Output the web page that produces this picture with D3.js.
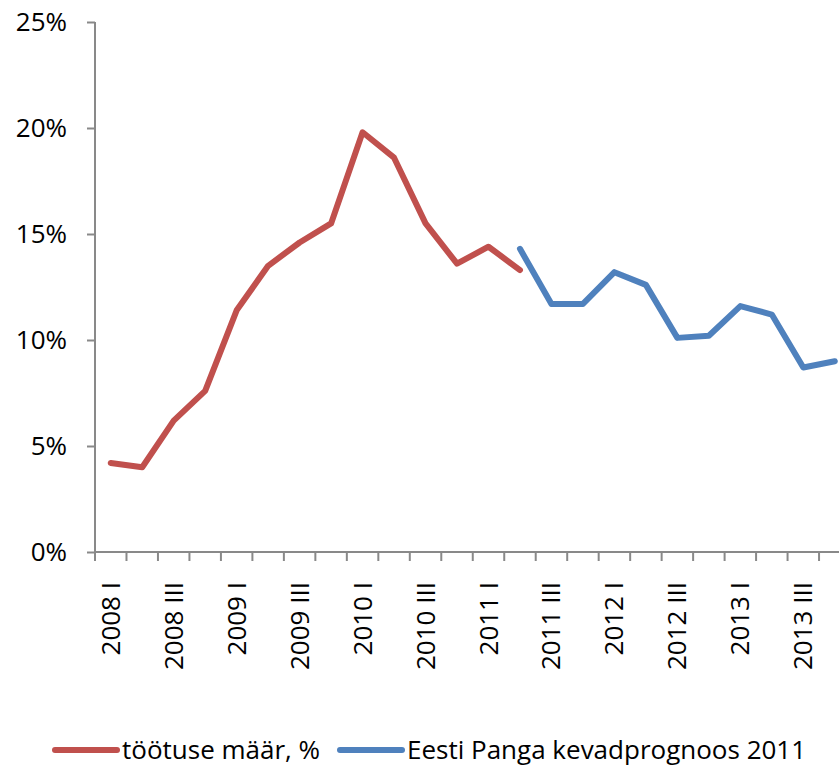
<!DOCTYPE html>
<html>
<head>
<meta charset="utf-8">
<script src="https://cdn.jsdelivr.net/npm/d3@7"></script>
<style>
  body { margin: 0; background: #fff; }
  svg { display: block; font-family: "Open Sans", sans-serif; }
</style>
</head>
<body>
<div id="chart"></div>
<script>
// quarters 2008 I .. 2013 IV
var years = ["2008", "2009", "2010", "2011", "2012", "2013"];
var quarterNames = ["I", "II", "III", "IV"];
var quarters = [];
years.forEach(function(y) { quarterNames.forEach(function(q) { quarters.push(y + " " + q); }); });

// töötuse määr (actual), 2008 I .. 2011 II
var actual = [4.2, 4.0, 6.2, 7.6, 11.4, 13.5, 14.6, 15.5, 19.8, 18.6, 15.5, 13.6, 14.4, 13.3];
// Eesti Panga kevadprognoos 2011, 2011 II .. 2013 IV
var forecastStart = 13;
var forecast = [14.3, 11.7, 11.7, 13.2, 12.6, 10.1, 10.2, 11.6, 11.2, 8.7, 9.0];

var yTicks = [0, 5, 10, 15, 20, 25];
var legendNames = ["töötuse määr, %", "Eesti Panga kevadprognoos 2011"];
var colors = ["#C0504D", "#4F81BD"];

var W = 839, H = 768;
var plotLeft = 95, plotTop = 22, plotBottom = 552;
var fontSize = 26;

var svg = d3.select("#chart").append("svg")
  .attr("width", W)
  .attr("height", H);

var x = d3.scaleBand()
  .domain(quarters)
  .range([plotLeft, plotLeft + 31.48 * 24]);

var y = d3.scaleLinear()
  .domain([0, 25])
  .range([plotBottom, plotTop]);

// y axis
var yAxis = svg.append("g")
  .attr("transform", "translate(" + plotLeft + ",0)")
  .call(d3.axisLeft(y).tickValues(yTicks).tickSize(8).tickPadding(20)
    .tickFormat(function(d) { return d + "%"; }));
yAxis.selectAll("path, line").attr("stroke", "#898989").attr("stroke-width", 2);
yAxis.select(".domain").attr("d", "M0," + plotTop + "V" + plotBottom);
yAxis.selectAll("text").attr("font-size", fontSize).attr("fill", "#000")
  .attr("font-family", "'Open Sans', sans-serif");

// x axis line and ticks at category boundaries
var xg = svg.append("g");
xg.append("line")
  .attr("x1", plotLeft).attr("x2", W)
  .attr("y1", plotBottom).attr("y2", plotBottom)
  .attr("stroke", "#898989").attr("stroke-width", 2);
xg.selectAll(".tk")
  .data(quarters)
  .enter().append("line")
  .attr("class", "tk")
  .attr("x1", function(d) { return x(d); })
  .attr("x2", function(d) { return x(d); })
  .attr("y1", plotBottom).attr("y2", plotBottom + 9)
  .attr("stroke", "#898989").attr("stroke-width", 2);

xg.selectAll(".lbl")
  .data(quarters.filter(function(d, i) { return i % 2 === 0; }))
  .enter().append("text")
  .attr("class", "lbl")
  .attr("transform", function(d) {
    return "translate(" + (x(d) + x.bandwidth() / 2 + 9) + "," + (plotBottom + 30) + ") rotate(-90)";
  })
  .attr("text-anchor", "end")
  .attr("font-size", fontSize)
  .attr("fill", "#000")
  .text(function(d) { return d; });

var line = d3.line()
  .x(function(d) { return x(d.q) + x.bandwidth() / 2; })
  .y(function(d) { return y(d.v); });

var actualData = actual.map(function(v, i) { return {q: quarters[i], v: v}; });
var forecastData = forecast.map(function(v, i) { return {q: quarters[forecastStart + i], v: v}; });

[actualData, forecastData].forEach(function(data, i) {
  svg.append("path")
    .datum(data)
    .attr("d", line)
    .attr("fill", "none")
    .attr("stroke", colors[i])
    .attr("stroke-width", 6)
    .attr("stroke-linejoin", "round")
    .attr("stroke-linecap", "round");
});

// legend
var legendX = [55, 340];
var leg = svg.append("g");
legendNames.forEach(function(name, i) {
  leg.append("line")
    .attr("x1", legendX[i]).attr("x2", legendX[i] + 62)
    .attr("y1", 750).attr("y2", 750)
    .attr("stroke", colors[i]).attr("stroke-width", 6)
    .attr("stroke-linecap", "round");
  leg.append("text")
    .attr("x", legendX[i] + 67)
    .attr("y", 759)
    .attr("font-size", fontSize)
    .attr("fill", "#000")
    .text(name);
});
</script>
</body>
</html>
